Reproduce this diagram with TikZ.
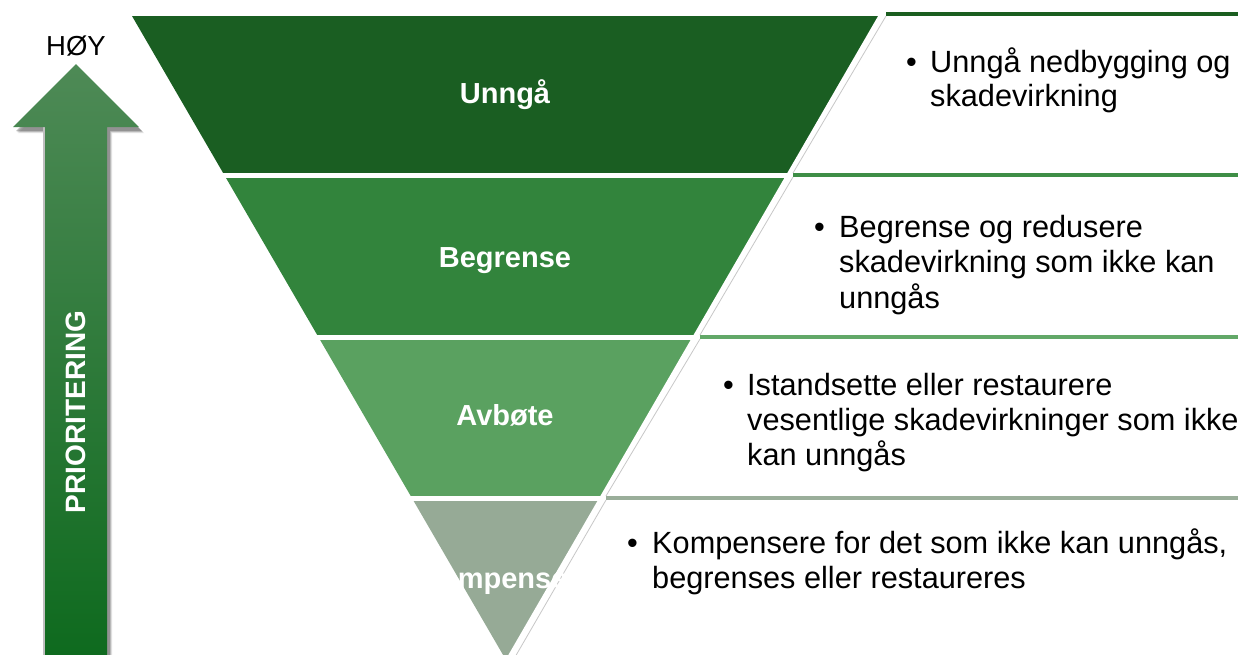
\documentclass[tikz,border=0pt]{standalone}
\usepackage{fontspec}
\setmainfont{Liberation Sans}
\definecolor{lone}{HTML}{1A5E22}
\definecolor{ltwo}{HTML}{32843C}
\definecolor{lthree}{HTML}{5AA160}
\definecolor{lfour}{HTML}{96AA96}
\definecolor{pone}{HTML}{1B5E20}
\definecolor{ptwo}{HTML}{3E8E46}
\definecolor{pthree}{HTML}{62A868}
\definecolor{pfour}{HTML}{9AAE9A}
\definecolor{arrtop}{HTML}{4E8A56}
\definecolor{arrbot}{HTML}{0E6A1E}
\definecolor{shadowgray}{HTML}{505050}
\begin{document}
\begin{tikzpicture}[x=1pt,y=-1pt,
  layerlabel/.style={font=\fontsize{29}{33}\selectfont\bfseries, text=white, inner sep=0pt, anchor=base},
  paneltxt/.style={font=\fontsize{30.7}{36}\selectfont, text=black, inner sep=0pt, anchor=base west},
  bulletdot/.style={font=\fontsize{30.7}{36}\selectfont, text=black, inner sep=0pt, anchor=base west},
  layersep/.style={draw=white, line width=5pt},
  paneltop/.style={line width=4pt},
  panelside/.style={draw=black!22, line width=0.8pt}
]
\useasboundingbox (0,0) rectangle (1238,654);
\fill[white] (0,0) rectangle (1238,654);

% ---- left arrow: shadow ----
\foreach \d/\o in {5/0.15,4/0.25,3/0.4}{
  \fill[shadowgray, opacity=\o, shift={(\d,\d+1)}]
    (76,64) -- (139,127) -- (107,127) -- (107,660) -- (45,660) -- (45,127) -- (13,127) -- cycle;
}
\fill[black!25, shift={(-2,0)}] (45,127) rectangle (47,660);
% ---- left arrow ----
\shade[top color=arrtop, bottom color=arrbot]
  (76,64) -- (139,127) -- (107,127) -- (107,660) -- (45,660) -- (45,127) -- (13,127) -- cycle;
\node[font=\fontsize{27.5}{30}\selectfont, inner sep=0pt, anchor=base] (hoy) at (76,55) {HØY};
\node[font=\fontsize{28}{32}\selectfont\bfseries, text=white, inner sep=0pt, rotate=90] (prio) at (76,412) {PRIORITERING};

% ---- triangle layers ----
\fill[lone]   (132,16) -- (880,16) -- (787.7,175) -- (224.3,175) -- cycle;
\fill[ltwo]   (224.3,175) -- (787.7,175) -- (693.6,337) -- (318.4,337) -- cycle;
\fill[lthree] (318.4,337) -- (693.6,337) -- (600.1,498) -- (411.9,498) -- cycle;
\fill[lfour]  (411.9,498) -- (600.1,498) -- (506,660) -- cycle;
\draw[layersep] (200,175) -- (812,175);
\draw[layersep] (300,337) -- (712,337);
\draw[layersep] (390,498) -- (620,498);
\draw[white, line width=3pt] (881,14) -- (506,662);

% ---- panels ----
\draw[pone, paneltop]   (886,14) -- (1240,14);
\draw[ptwo, paneltop]   (793,175) -- (1240,175);
\draw[pthree, paneltop] (700,337) -- (1240,337);
\draw[pfour, paneltop]  (606,498) -- (1240,498);
\draw[panelside] (886,16) -- (793,173);
\draw[panelside] (793,177) -- (700,335);
\draw[panelside] (700,339) -- (606,496);
\draw[panelside] (606,500) -- (511,664);

% ---- layer labels ----
\node[layerlabel] (unnga) at (505,103) {Unngå};
\node[layerlabel] (begrense) at (505,267) {Begrense};
\node[layerlabel] (avbote) at (505,425) {Avbøte};
\node[layerlabel] (kompensere) at (507,588) {Kompensere};

% ---- panel texts ----
\node[bulletdot] (b1) at (906,72) {•};
\node[paneltxt] (t1a) at (930,72) {Unngå nedbygging og};
\node[paneltxt] (t1b) at (930,106) {skadevirkning};

\node[bulletdot] (b2) at (814,237) {•};
\node[paneltxt] (t2a) at (839,237) {Begrense og redusere};
\node[paneltxt] (t2b) at (839,272) {skadevirkning som ikke kan};
\node[paneltxt] (t2c) at (839,308) {unngås};

\node[bulletdot] (b3) at (723,395) {•};
\node[paneltxt] (t3a) at (747,395) {Istandsette eller restaurere};
\node[paneltxt] (t3b) at (747,430) {vesentlige skadevirkninger som ikke};
\node[paneltxt] (t3c) at (747,465) {kan unngås};

\node[bulletdot] (b4) at (627,553) {•};
\node[paneltxt] (t4a) at (652,553) {Kompensere for det som ikke kan unngås,};
\node[paneltxt] (t4b) at (652,588) {begrenses eller restaureres};
\end{tikzpicture}
\end{document}
